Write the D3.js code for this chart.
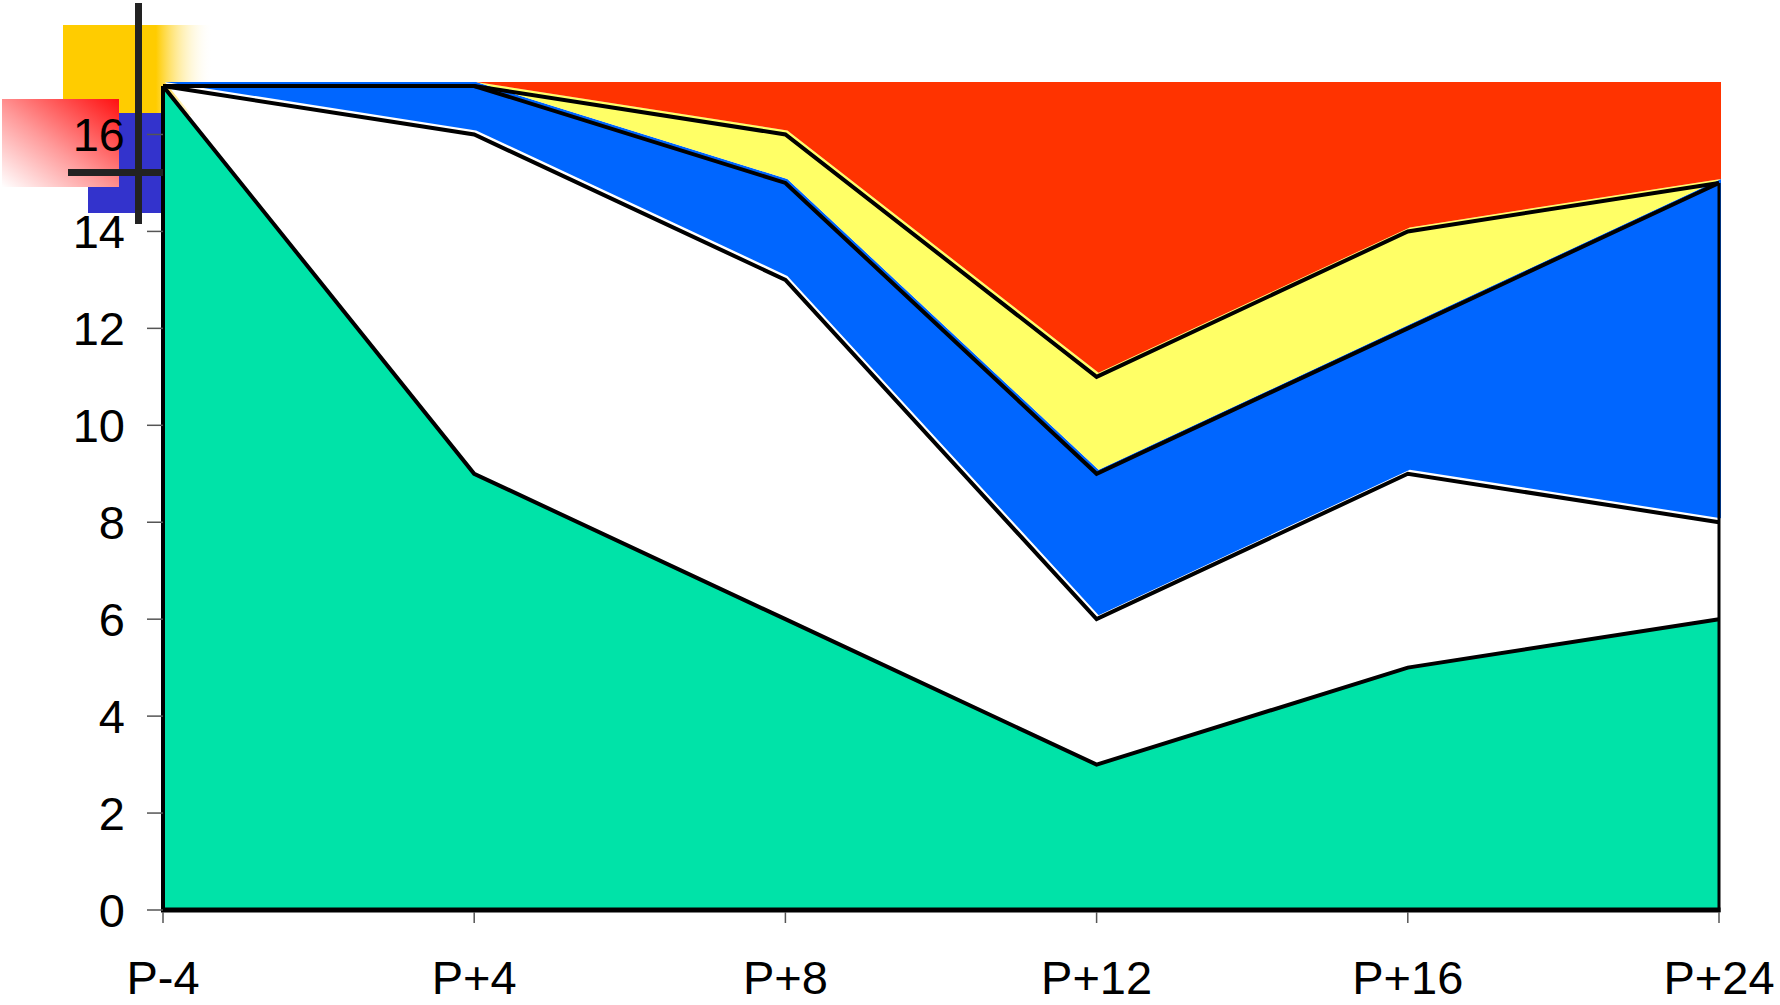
<!DOCTYPE html>
<html>
<head>
<meta charset="utf-8">
<script src="https://cdn.jsdelivr.net/npm/d3@7"></script>
<style>
  html, body { margin: 0; padding: 0; background: #ffffff; }
  svg { display: block; }
  text { font-family: "Liberation Sans", Arial, sans-serif; fill: #000; }
</style>
</head>
<body>
<svg id="chart" width="1780" height="1005"></svg>
<script>
// Period labels along the horizontal axis
const categories = ["P-4", "P+4", "P+8", "P+12", "P+16", "P+24"];

// Stacked series, bottom to top
const greenValues  = [17, 9, 6, 3, 5, 6];
const whiteValues  = [0, 7, 7, 3, 4, 2];
const blueValues   = [0, 1, 2, 3, 3, 7];
const yellowValues = [0, 0, 1, 2, 2, 0];
const redValues    = [0, 0, 1, 6, 3, 2];

const yTicks = [0, 2, 4, 6, 8, 10, 12, 14, 16];

const seriesKeys = ["green", "white", "blue", "yellow", "red"];
const seriesColors = {
  green: "#00E3A8",
  white: "#FFFFFF",
  blue: "#0066FF",
  yellow: "#FFFF66",
  red: "#FF3300"
};

const rows = categories.map((c, i) => ({
  cat: c,
  green: greenValues[i],
  white: whiteValues[i],
  blue: blueValues[i],
  yellow: yellowValues[i],
  red: redValues[i]
}));

const svg = d3.select("#chart");
const defs = svg.append("defs");

// Corner ornament gradients
const yg = defs.append("linearGradient").attr("id", "yellowFade")
  .attr("x1", 0).attr("y1", 0).attr("x2", 1).attr("y2", 0);
yg.append("stop").attr("offset", "0%").attr("stop-color", "#FFCC00");
yg.append("stop").attr("offset", "62%").attr("stop-color", "#FFCC00");
yg.append("stop").attr("offset", "100%").attr("stop-color", "#FFFFFF").attr("stop-opacity", 0);

const rg = defs.append("linearGradient").attr("id", "redFade")
  .attr("x1", 1).attr("y1", 0).attr("x2", 0).attr("y2", 1);
rg.append("stop").attr("offset", "0%").attr("stop-color", "#FF1010");
rg.append("stop").attr("offset", "55%").attr("stop-color", "#FF9A9A");
rg.append("stop").attr("offset", "100%").attr("stop-color", "#FFFFFF");

// Corner ornament blocks
const deco = svg.append("g");
deco.append("rect").attr("x", 63).attr("y", 25).attr("width", 150).attr("height", 90)
  .attr("fill", "url(#yellowFade)");
deco.append("rect").attr("x", 88).attr("y", 113).attr("width", 78).attr("height", 100)
  .attr("fill", "#3333CC");
deco.append("rect").attr("x", 2).attr("y", 99).attr("width", 117).attr("height", 88)
  .attr("fill", "url(#redFade)");

// Scales
const x = d3.scalePoint().domain(categories).range([163, 1719]);
const y = d3.scaleLinear().domain([0, 17]).range([910, 86]);

const stack = d3.stack().keys(seriesKeys);
const layers = stack(rows);

// Upper layers sit slightly up and right of their outlines;
// the bottom layer is drawn last, in place, over them.
const fdx = 2, fdy = -4;
const area = d3.area()
  .x(d => x(d.data.cat))
  .y0(d => y(d[0]))
  .y1(d => y(d[1]));

svg.append("g").attr("transform", `translate(${fdx},${fdy})`)
  .selectAll("path").data(layers.filter(l => l.key !== "green")).join("path")
  .attr("d", area)
  .attr("fill", d => seriesColors[d.key]);

svg.append("g")
  .selectAll("path").data(layers.filter(l => l.key === "green")).join("path")
  .attr("d", area)
  .attr("fill", d => seriesColors[d.key]);

// Outlines of each layer's upper edge (the top layer has none)
const line = d3.line().x(d => x(d.data.cat)).y(d => y(d[1]));
const outlines = svg.append("g");
outlines.selectAll("path").data(layers.filter(l => l.key !== "red")).join("path")
  .attr("d", line)
  .attr("fill", "none")
  .attr("stroke", "#000")
  .attr("stroke-width", 4)
  .attr("stroke-linejoin", "miter");

const last = layers[layers.length - 2];
const lastIdx = categories.length - 1;
// Left edge, right edge and base of the stack
outlines.append("line")
  .attr("x1", x(categories[0])).attr("x2", x(categories[0]))
  .attr("y1", y(0)).attr("y2", y(layers[3][0][1]))
  .attr("stroke", "#000").attr("stroke-width", 4);
outlines.append("line")
  .attr("x1", x(categories[lastIdx])).attr("x2", x(categories[lastIdx]))
  .attr("y1", y(0) + 2).attr("y2", y(last[lastIdx][1]))
  .attr("stroke", "#000").attr("stroke-width", 3);
outlines.append("line")
  .attr("x1", x(categories[0]) - 2).attr("x2", x(categories[lastIdx]) + 1.5)
  .attr("y1", y(0)).attr("y2", y(0))
  .attr("stroke", "#000").attr("stroke-width", 5);

// Y axis
const yAxis = svg.append("g");
yAxis.selectAll("line").data(yTicks).join("line")
  .attr("x1", 147).attr("x2", 163)
  .attr("y1", d => y(d)).attr("y2", d => y(d))
  .attr("stroke", "#555").attr("stroke-width", 1.5);
yAxis.selectAll("text").data(yTicks).join("text")
  .attr("x", 125).attr("y", d => y(d))
  .attr("dy", "0.36em")
  .attr("text-anchor", "end")
  .attr("font-size", 47)
  .text(d => d);

// X axis
const xAxis = svg.append("g");
xAxis.selectAll("line").data(categories).join("line")
  .attr("x1", d => x(d)).attr("x2", d => x(d))
  .attr("y1", y(0) + 2).attr("y2", y(0) + 13)
  .attr("stroke", "#555").attr("stroke-width", 1.5);
xAxis.selectAll("text").data(categories).join("text")
  .attr("x", d => x(d)).attr("y", 994)
  .attr("text-anchor", "middle")
  .attr("font-size", 47)
  .text(d => d);

// Corner ornament crosshair
svg.append("rect").attr("x", 135).attr("y", 3).attr("width", 7).attr("height", 221).attr("fill", "#222");
svg.append("rect").attr("x", 68).attr("y", 169).attr("width", 95).attr("height", 7).attr("fill", "#222");
</script>
</body>
</html>
